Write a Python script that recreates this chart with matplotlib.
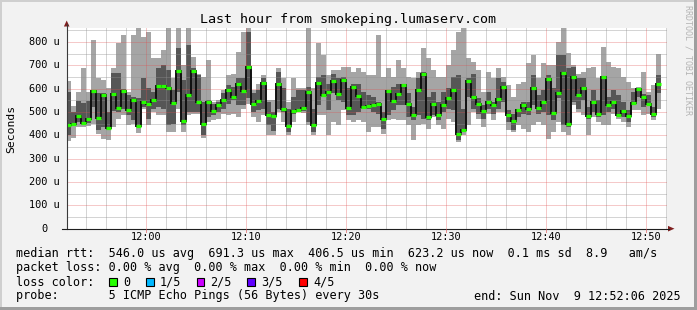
#!/usr/bin/env python

import matplotlib
matplotlib.use("Agg")
import matplotlib.pyplot as plt
from matplotlib.lines import Line2D
from matplotlib.patches import Polygon, Rectangle
import numpy as np

W, H = 697, 310
MONO = "DejaVu Sans Mono"

# minutes relative to 12:00; one column per 30 s step
first_step = -8.0
step = 0.5
view = (-7.9, 52.1)

# sorted pings per step: min, 2nd, median, 4th, max (microseconds)
ping_min = [374, 390, 436, 435, 440, 450, 405, 386, 380, 436, 470, 486, 443, 450, 410, 515, 443, 500, 486, 486,
            414, 414, 515, 414, 486, 490, 493, 390, 457, 465, 472, 493, 486, 493, 479, 515, 536, 479, 457, 486,
            400, 400, 500, 457, 400, 457, 500, 495, 443, 400, 486, 486, 400, 457, 443, 508, 465, 457, 465, 457,
            414, 436, 436, 407, 465, 472, 465, 465, 443, 378, 443, 450, 429, 479, 443, 429, 472, 457, 370, 400,
            443, 500, 472, 436, 493, 465, 500, 500, 422, 414, 443, 429, 414, 443, 457, 443, 386, 414, 457, 414,
            400, 529, 500, 486, 400, 479, 457, 443, 443, 493, 472, 457, 436, 508, 508, 486, 493, 465, 515]
ping_q1 = [400, 440, 457, 445, 455, 522, 425, 436, 425, 505, 500, 515, 486, 465, 436, 522, 472, 515, 522, 515,
           443, 450, 586, 443, 500, 500, 500, 400, 480, 486, 500, 515, 536, 550, 529, 530, 558, 500, 508, 515,
           443, 420, 515, 500, 414, 490, 505, 505, 457, 414, 529, 565, 508, 580, 550, 543, 486, 486, 500, 515,
           515, 500, 493, 429, 486, 508, 529, 529, 479, 465, 486, 472, 465, 486, 465, 500, 515, 508, 380, 414,
           565, 515, 493, 472, 515, 493, 515, 543, 457, 422, 479, 493, 486, 529, 493, 500, 486, 465, 560, 443,
           436, 543, 515, 550, 472, 500, 479, 486, 500, 515, 486, 479, 457, 529, 565, 522, 529, 479, 580]
ping_med = [443, 449, 483, 454, 468, 590, 476, 573, 431, 579, 517, 590, 509, 550, 440, 541, 533, 553, 611, 611,
            602, 540, 677, 463, 571, 677, 545, 449, 545, 503, 529, 553, 595, 565, 618, 591, 691, 535, 549, 626,
            486, 482, 619, 512, 439, 503, 510, 516, 586, 444, 625, 575, 586, 631, 579, 639, 516, 609, 569, 522,
            526, 529, 536, 469, 588, 546, 578, 614, 536, 486, 596, 661, 479, 536, 487, 532, 559, 595, 407, 424,
            631, 566, 536, 503, 545, 532, 555, 609, 486, 463, 509, 528, 512, 601, 519, 541, 641, 495, 581, 667,
            450, 649, 572, 605, 482, 542, 493, 649, 532, 545, 489, 506, 482, 539, 599, 565, 533, 493, 622]
ping_q3 = [586, 500, 546, 540, 546, 593, 580, 580, 500, 668, 668, 600, 572, 565, 558, 644, 601, 586, 687, 701,
           680, 594, 776, 637, 787, 690, 660, 543, 550, 536, 543, 580, 615, 608, 644, 644, 844, 580, 594, 644,
           543, 500, 672, 601, 515, 565, 594, 594, 608, 515, 651, 658, 622, 665, 644, 651, 601, 622, 622, 586,
           572, 565, 543, 500, 594, 608, 622, 622, 580, 522, 644, 672, 565, 586, 543, 586, 601, 651, 658, 515,
           644, 665, 558, 529, 586, 543, 644, 629, 508, 493, 515, 543, 543, 658, 572, 594, 658, 601, 744, 744,
           687, 694, 644, 644, 522, 594, 550, 651, 565, 594, 572, 543, 508, 586, 601, 579, 572, 522, 658]
ping_max = [632, 525, 586, 688, 586, 808, 644, 639, 601, 687, 797, 830, 586, 830, 859, 823, 844, 730, 730, 766,
            860, 644, 859, 700, 859, 737, 665, 650, 722, 543, 550, 594, 658, 665, 758, 844, 860, 594, 622, 658,
            550, 550, 690, 644, 543, 644, 601, 605, 860, 601, 795, 744, 658, 680, 680, 694, 694, 672, 687, 672,
            658, 658, 830, 651, 687, 651, 723, 687, 651, 644, 672, 773, 730, 680, 651, 651, 701, 766, 844, 860,
            730, 715, 680, 586, 672, 644, 687, 651, 615, 565, 622, 629, 708, 744, 644, 708, 701, 701, 801, 860,
            751, 701, 665, 672, 687, 694, 644, 780, 715, 694, 687, 651, 629, 601, 608, 672, 586, 615, 747]

y_ticks = [0, 100, 200, 300, 400, 500, 600, 700, 800]
y_labels = ["0", "100 u", "200 u", "300 u", "400 u", "500 u", "600 u", "700 u", "800 u"]
x_ticks = [0, 10, 20, 30, 40, 50]
x_labels = ["12:00", "12:10", "12:20", "12:30", "12:40", "12:50"]

title = "Last hour from smokeping.lumaserv.com"
rtt_line = "median rtt:  546.0 us avg  691.3 us max  406.5 us min  623.2 us now  0.1 ms sd  8.9   am/s"
loss_line = "packet loss: 0.00 % avg  0.00 % max  0.00 % min  0.00 % now"
probe_line = "probe:       5 ICMP Echo Pings (56 Bytes) every 30s"
end_line = "end: Sun Nov  9 12:52:06 2025"
loss_labels = ["0", "1/5", "2/5", "3/5", "4/5"]
loss_colors = ["#26ff00", "#00b8ff", "#cc00ff", "#6000ff", "#ff0000"]

GRID = (0.56, 0.56, 0.56, 0.75)
MGRID = (0.87, 0.31, 0.31, 0.6)
ARROW = (0.5, 0.12, 0.12)
AXIS = "#1f1f1f"


def fx(x):
    return x / W


def fy(y):
    return 1 - y / H


def frame(fig):
    # rrdtool style 3d border
    fig.add_artist(Rectangle((0, fy(2)), 1, 2 / H, transform=fig.transFigure, color="#cfcfcf", lw=0))
    fig.add_artist(Rectangle((0, 0), 2 / W, 1, transform=fig.transFigure, color="#cfcfcf", lw=0))
    fig.add_artist(Rectangle((0, 0), 1, 3 / H, transform=fig.transFigure, color="#9e9e9e", lw=0))
    fig.add_artist(Rectangle((fx(W - 3), 0), 3 / W, 1, transform=fig.transFigure, color="#9e9e9e", lw=0))


def plot_smoke(ax):
    n = len(ping_med)
    edges = first_step + step * np.arange(n + 1)
    lo, q1, med = np.array(ping_min), np.array(ping_q1), np.array(ping_med)
    q3, hi = np.array(ping_q3), np.array(ping_max)

    ax.stairs(hi, edges, baseline=lo, fill=True, color="#a5a5a5", lw=0, zorder=2)
    ax.stairs(q3, edges, baseline=q1, fill=True, color="#565656", lw=0, zorder=2.1)

    # grid is drawn over the smoke
    for t in range(-6, 53, 2):
        if t % 10:
            ax.axvline(t, color=GRID, lw=0.72, ls=(0, (1, 1)), zorder=2.5)
    for v in range(50, 860, 100):
        ax.axhline(v, color=GRID, lw=0.72, ls=(0, (1, 1)), zorder=2.5)
    for t in x_ticks:
        ax.axvline(t, color=MGRID, lw=0.72, ls=(0, (1, 1)), zorder=2.6)
    for v in y_ticks[1:]:
        ax.axhline(v, color=MGRID, lw=0.72, ls=(0, (1, 1)), zorder=2.6)

    ax.stairs(med, edges, baseline=None, color="#111111", lw=1.4, zorder=3)
    ax.hlines(med, edges[:-1], edges[1:], color=loss_colors[0], lw=2.3, capstyle="butt", zorder=4)


def axes_decor(fig):
    left, right, bottom, top = 66.7, 666.7, 228.7, 28.3
    tf = fig.transFigure
    fig.add_artist(Line2D([fx(left)] * 2, [fy(bottom), fy(24)], color="#3a3a3a", lw=0.8, transform=tf))
    fig.add_artist(Line2D([fx(62), fx(669)], [fy(bottom)] * 2, color=AXIS, lw=0.8, transform=tf))
    fig.add_artist(Polygon([(fx(63.9), fy(26.5)), (fx(69.5), fy(26.5)), (fx(left), fy(20.5))],
                           closed=True, color=ARROW, lw=0, transform=tf))
    fig.add_artist(Polygon([(fx(668), fy(bottom - 2.8)), (fx(668), fy(bottom + 2.8)), (fx(674.5), fy(bottom))],
                           closed=True, color=ARROW, lw=0, transform=tf))

    px_per_min = (right - left) / (view[1] - view[0])
    px_per_us = (bottom - top) / 858.7
    for t, lab in zip(x_ticks, x_labels):
        x = left + (t - view[0]) * px_per_min
        fig.add_artist(Line2D([fx(x)] * 2, [fy(bottom), fy(bottom + 3)], color=MGRID, lw=0.72, transform=tf))
        fig.text(fx(x), fy(237.5), lab, family=MONO, size=7.4, ha="center", va="center")
    for v, lab in zip(y_ticks, y_labels):
        y = bottom - v * px_per_us
        x = 47.5 if v == 0 else 59.5
        fig.text(fx(x), fy(y), lab, family=MONO, size=7.4, ha="right", va="center")


def legend(fig):
    fig.text(fx(16), fy(253), rtt_line, family=MONO, size=8.5, va="center")
    fig.text(fx(16), fy(267.5), loss_line, family=MONO, size=8.5, va="center")
    fig.text(fx(16), fy(282), "loss color:", family=MONO, size=8.5, va="center")
    box_x = [109, 146, 196.5, 247, 299]
    for bx, lab, col in zip(box_x, loss_labels, loss_colors):
        fig.add_artist(Rectangle((fx(bx), fy(286)), 7.5 / W, 8 / H, transform=fig.transFigure,
                                 facecolor=col, edgecolor="black", lw=0.8))
        fig.text(fx(bx + 14), fy(282), lab, family=MONO, size=8.5, va="center")
    fig.text(fx(16), fy(296), probe_line, family=MONO, size=8.5, va="center")
    fig.text(fx(680.5), fy(296), end_line, family=MONO, size=8.5, va="center", ha="right")


def main():
    fig = plt.figure(figsize=(W / 100, H / 100), dpi=100, facecolor="#f2f2f2")
    frame(fig)

    ax = fig.add_axes([fx(66.7), fy(228.7), 600 / W, 200.4 / H])
    ax.set_facecolor("white")
    ax.set_xlim(*view)
    ax.set_ylim(0, 858.7)
    for s in ax.spines.values():
        s.set_visible(False)
    ax.set_xticks([])
    ax.set_yticks([])

    plot_smoke(ax)
    axes_decor(fig)
    legend(fig)

    fig.text(fx(347.5), fy(20), title, family=MONO, size=9.6, ha="center", va="center")
    fig.text(fx(11), fy(128.5), "Seconds", family=MONO, size=8.2, rotation=90, ha="center", va="center")
    fig.text(fx(688), fy(60), "RRDTOOL / TOBI OETIKER", family=MONO, size=6.0, rotation=270,
             ha="center", va="center", color="#b4b4b4")

    fig.savefig("out.png", dpi=100, facecolor=fig.get_facecolor())


if __name__ == "__main__":
    main()
